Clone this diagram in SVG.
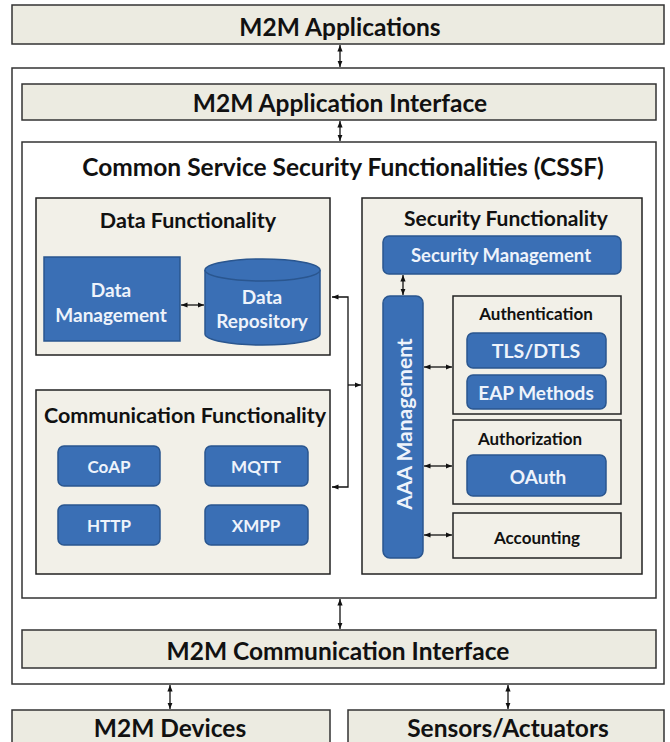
<svg xmlns="http://www.w3.org/2000/svg" width="670" height="742" viewBox="0 0 670 742">
<style>
.lay{fill:#ecebe1;stroke:#333;stroke-width:1.5}
.box{fill:#f2f0e8;stroke:#222;stroke-width:1.5}
.white{fill:#fff;stroke:#333;stroke-width:1.5}
.blue{fill:#3a6fb5;stroke:#2a568f;stroke-width:1.5}
.t{font-family:Lato,"Liberation Sans",sans-serif;font-weight:bold;fill:#111;text-anchor:middle;dominant-baseline:central}
.w{font-family:Lato,"Liberation Sans",sans-serif;font-weight:bold;fill:#eef3fb;text-anchor:middle;dominant-baseline:central}
.c{stroke:#111;stroke-width:1.3;fill:none}
</style>
<defs>
<marker id="a" viewBox="0 0 10 10" refX="10" refY="5" markerWidth="5" markerHeight="5" orient="auto-start-reverse"><path d="M0,1 L10,5 L0,9 z" fill="#111"/></marker>
</defs>
<rect width="670" height="742" fill="#fff"/>
<g id="m2m-applications"><rect class="lay" x="12" y="5" width="652" height="39"/><text class="t" x="340" y="26" font-size="24.5">M2M Applications</text></g>
<g id="outer"><rect class="white" x="12" y="68" width="652" height="616"/></g>
<g id="app-interface"><rect class="lay" x="22" y="84" width="634" height="36"/><text class="t" x="340" y="102" font-size="24.5">M2M Application Interface</text></g>
<g id="cssf"><rect class="white" x="22" y="142" width="634" height="456"/><text class="t" x="343" y="166" font-size="24.5">Common Service Security Functionalities (CSSF)</text></g>
<g id="data-func"><rect class="box" x="36" y="198" width="294" height="157"/><text class="t" x="188" y="220" font-size="21.5">Data Functionality</text></g>
<g id="data-mgmt"><rect class="blue" x="44" y="257" width="136" height="84"/><text class="w" x="111" y="289" font-size="19">Data</text><text class="w" x="111" y="314" font-size="19">Management</text></g>
<g id="data-repo"><path class="blue" d="M205,270 V334 A57.5,11 0 0 0 320,334 V270"/><ellipse class="blue" cx="262.5" cy="270" rx="57.5" ry="11" fill="#4d82c6"/><text class="w" x="262" y="296" font-size="19">Data</text><text class="w" x="262" y="320" font-size="19">Repository</text></g>
<g id="comm-func"><rect class="box" x="36" y="390" width="294" height="184"/><text class="t" x="185" y="415" font-size="21.5">Communication Functionality</text></g>
<g id="coap"><rect class="blue" x="58" y="446" width="102" height="40" rx="6"/><text class="w" x="109" y="466" font-size="17">CoAP</text></g>
<g id="mqtt"><rect class="blue" x="205" y="446" width="103" height="40" rx="6"/><text class="w" x="256" y="466" font-size="17">MQTT</text></g>
<g id="http"><rect class="blue" x="58" y="505" width="102" height="40" rx="6"/><text class="w" x="109" y="525" font-size="17">HTTP</text></g>
<g id="xmpp"><rect class="blue" x="205" y="505" width="103" height="40" rx="6"/><text class="w" x="256" y="525" font-size="17">XMPP</text></g>
<g id="sec-func"><rect class="box" x="362" y="198" width="280" height="376"/><text class="t" x="506" y="217" font-size="21">Security Functionality</text></g>
<g id="sec-mgmt"><rect class="blue" x="383" y="236" width="238" height="38" rx="6"/><text class="w" x="501" y="255" font-size="18.5">Security Management</text></g>
<g id="aaa"><rect class="blue" x="383" y="296" width="40" height="262" rx="7"/><text class="w" x="403" y="424" font-size="21" transform="rotate(-90 403 424)">AAA Management</text></g>
<g id="authn"><rect class="box" x="453" y="296" width="168" height="118"/><text class="t" x="536" y="313" font-size="17">Authentication</text></g>
<g id="tls"><rect class="blue" x="467" y="333" width="139" height="35" rx="6"/><text class="w" x="536" y="350" font-size="19.5">TLS/DTLS</text></g>
<g id="eap"><rect class="blue" x="467" y="375" width="139" height="34" rx="6"/><text class="w" x="536" y="392" font-size="19">EAP Methods</text></g>
<g id="authz"><rect class="box" x="453" y="420" width="168" height="84"/><text class="t" x="530" y="438" font-size="17">Authorization</text></g>
<g id="oauth"><rect class="blue" x="467" y="455" width="139" height="41" rx="6"/><text class="w" x="538" y="476" font-size="19">OAuth</text></g>
<g id="accounting"><rect class="box" x="453" y="513" width="168" height="45"/><text class="t" x="537" y="537" font-size="17">Accounting</text></g>
<g id="comm-interface"><rect class="lay" x="22" y="630" width="634" height="38"/><text class="t" x="338" y="650" font-size="24.5">M2M Communication Interface</text></g>
<g id="devices"><rect class="lay" x="12" y="710" width="318" height="40"/><text class="t" x="170" y="727" font-size="24.5">M2M Devices</text></g>
<g id="sensors"><rect class="lay" x="348" y="710" width="316" height="40"/><text class="t" x="508" y="727" font-size="24.5">Sensors/Actuators</text></g>
<g id="connectors">
<line class="c" x1="340" y1="45" x2="340" y2="67" marker-start="url(#a)" marker-end="url(#a)"/>
<line class="c" x1="340" y1="121" x2="340" y2="141" marker-start="url(#a)" marker-end="url(#a)"/>
<line class="c" x1="181" y1="305" x2="204" y2="305" marker-start="url(#a)" marker-end="url(#a)"/>
<polyline class="c" points="332,297 348,297 348,487 332,487" marker-start="url(#a)" marker-end="url(#a)"/>
<line class="c" x1="348" y1="385" x2="361" y2="385" marker-end="url(#a)"/>
<line class="c" x1="403" y1="275" x2="403" y2="295" marker-start="url(#a)" marker-end="url(#a)"/>
<line class="c" x1="424" y1="367" x2="452" y2="367" marker-start="url(#a)" marker-end="url(#a)"/>
<line class="c" x1="424" y1="466" x2="452" y2="466" marker-start="url(#a)" marker-end="url(#a)"/>
<line class="c" x1="424" y1="535" x2="452" y2="535" marker-start="url(#a)" marker-end="url(#a)"/>
<line class="c" x1="340" y1="599" x2="340" y2="629" marker-start="url(#a)" marker-end="url(#a)"/>
<line class="c" x1="170" y1="685" x2="170" y2="709" marker-start="url(#a)" marker-end="url(#a)"/>
<line class="c" x1="508" y1="685" x2="508" y2="709" marker-start="url(#a)" marker-end="url(#a)"/>
</g>
</svg>
